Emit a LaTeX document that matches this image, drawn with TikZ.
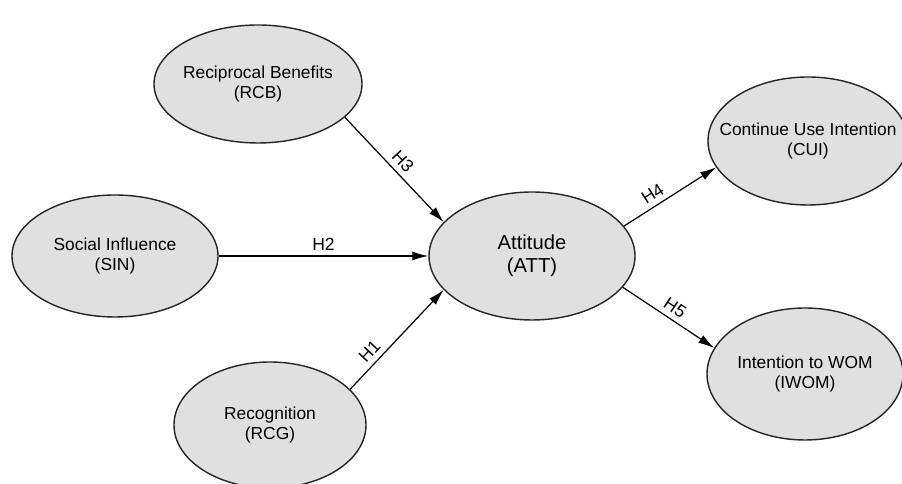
\documentclass[tikz,border=0pt]{standalone}
\usepackage{fontspec}
\setmainfont{Liberation Sans}
\usepackage{tikz}
\usetikzlibrary{shapes.geometric, arrows.meta, positioning}

\begin{document}
\begin{tikzpicture}[
  construct/.style={draw=black!85, ellipse, fill=black!12, line width=0.8pt, inner sep=0pt},
  txt/.style={align=center, font=\fontsize{9.9}{11.3}\selectfont},
  arr/.style={-{Latex[length=3.2mm, width=1.8mm]}, line width=0.7pt},
  hyp/.style={font=\fontsize{10}{11}\selectfont, sloped, above, inner sep=3pt},
  on grid
]
  \useasboundingbox (0,0) rectangle (18.04,9.68);
  \clip (0,0) rectangle (18.04,9.68);

  % Central construct
  \node[construct, minimum width=4.12cm, minimum height=2.56cm,
        label={[txt, font=\fontsize{11.5}{13}\selectfont]center:Attitude\\(ATT)}] (att) at (10.64,4.56) {};

  % Antecedents
  \node[construct, minimum width=4.16cm, minimum height=2.36cm, above left=3.44cm and 5.48cm of att,
        label={[txt]center:Reciprocal Benefits\\(RCB)}] (rcb) {};
  \node[construct, minimum width=4.12cm, minimum height=2.44cm, left=8.34cm of att,
        label={[txt]center:Social Influence\\(SIN)}] (sin) {};
  \node[construct, minimum width=3.84cm, minimum height=2.52cm, below left=3.38cm and 5.24cm of att,
        label={[txt]center:Recognition\\(RCG)}] (rcg) {};

  % Outcomes
  \node[construct, minimum width=4.0cm, minimum height=2.56cm, above right=2.30cm and 5.52cm of att,
        label={[txt]center:Continue Use Intention\\(CUI)}] (cui) {};
  \node[construct, minimum width=3.92cm, minimum height=2.64cm, below right=2.36cm and 5.46cm of att,
        label={[txt]center:Intention to WOM\\(IWOM)}] (iwom) {};

  % Hypotheses
  \draw[arr] (rcb.-21) -- node[hyp] {H3} (att.159);
  \draw[arr] (sin) -- node[hyp] {H2} (att);
  \draw[arr] (rcg.24) -- node[hyp, pos=0.3] {H1} (att.201);
  \draw[arr] (att.18) -- node[hyp, pos=0.38] {H4} (cui.196);
  \draw[arr] (att.-19) -- node[hyp] {H5} (iwom.164);

\end{tikzpicture}
\end{document}
